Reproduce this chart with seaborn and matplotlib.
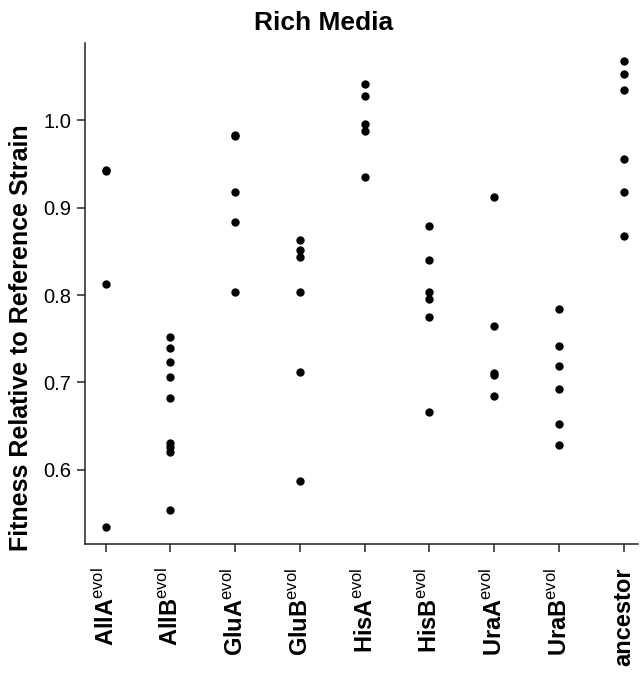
import matplotlib
matplotlib.use("Agg")
import matplotlib.pyplot as plt
import pandas as pd
import seaborn as sns

# strains, in plotting order
strains = ["AllA", "AllB", "GluA", "GluB", "HisA", "HisB", "UraA", "UraB", "ancestor"]

# fitness values (rich media)
alla = [0.942, 0.943, 0.813, 0.535]
allb = [0.752, 0.739, 0.724, 0.706, 0.682, 0.631, 0.626, 0.621, 0.554]
glua = [0.983, 0.982, 0.918, 0.884, 0.804]
glub = [0.863, 0.851, 0.843, 0.803, 0.712, 0.587]
hisa = [1.041, 1.028, 0.996, 0.988, 0.935]
hisb = [0.879, 0.840, 0.803, 0.795, 0.775, 0.666]
uraa = [0.912, 0.765, 0.709, 0.711, 0.685]
urab = [0.784, 0.742, 0.719, 0.693, 0.653, 0.629]
ancestor = [1.067, 1.053, 1.034, 0.956, 0.918, 0.867]

y_ticks = [0.6, 0.7, 0.8, 0.9, 1.0]

values = [alla, allb, glua, glub, hisa, hisb, uraa, urab, ancestor]
df = pd.DataFrame(
    [(s, v) for s, vals in zip(strains, values) for v in vals],
    columns=["strain", "fitness"],
)

sns.set_theme(style="ticks")
plt.rcParams["font.family"] = ["Liberation Sans", "DejaVu Sans"]
plt.rcParams["mathtext.fontset"] = "custom"
plt.rcParams["mathtext.rm"] = "Liberation Sans"
plt.rcParams["text.color"] = "black"
plt.rcParams["xtick.color"] = "black"
plt.rcParams["ytick.color"] = "black"
plt.rcParams["axes.labelcolor"] = "black"

fig = plt.figure(figsize=(6.41, 6.73), dpi=100)
ax = fig.add_axes([0.1326, 0.1917, 0.8624, 0.7443])

sns.stripplot(
    data=df,
    x="strain",
    y="fitness",
    order=strains,
    jitter=False,
    color="black",
    size=6,
    linewidth=0,
    ax=ax,
)

ax.set_xlim(-0.32, 8.22)
ax.set_ylim(0.5154, 1.088)
ax.set_yticks(y_ticks)
ax.set_yticklabels([f"{t:.1f}" for t in y_ticks], fontsize=14.5)

labels = [s if s == "ancestor" else s + r"$^{\mathrm{evol}}$" for s in strains]
ax.set_xticks(range(len(strains)))
ax.set_xticklabels(labels, rotation=90, fontsize=17, fontweight="bold", va="top")
ax.tick_params(axis="both", length=6, width=1.1, color="#222222")
ax.tick_params(axis="x", pad=11)
ax.tick_params(axis="y", pad=4)

ax.set_xlabel("")
ax.set_ylabel("")
sns.despine(ax=ax)
for side in ["left", "bottom"]:
    ax.spines[side].set_linewidth(1.1)
    ax.spines[side].set_color("#222222")

fig.text(0.504, 1 - 23 / 673, "Rich Media", ha="center", va="center",
         fontsize=19, fontweight="bold")
fig.text(21 / 641, 1 - 338 / 673, "Fitness Relative to Reference Strain",
         ha="center", va="center", rotation=90, fontsize=18, fontweight="bold")

fig.savefig("out.png", dpi=100)
